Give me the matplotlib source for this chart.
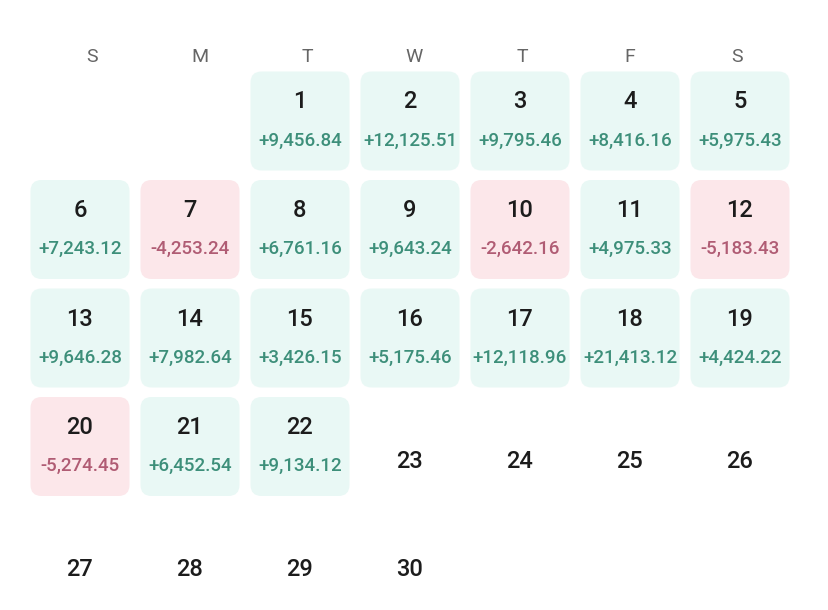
import matplotlib
matplotlib.use("Agg")
import matplotlib.pyplot as plt
from matplotlib.patches import FancyBboxPatch

# Calendar data: month starts on Tuesday (column 2), 30 days
weekday_labels = ['S', 'M', 'T', 'W', 'T', 'F', 'S']
first_weekday = 2
days_in_month = 30
daily_pnl = [9456.84, 12125.51, 9795.46, 8416.16, 5975.43,
             7243.12, -4253.24, 6761.16, 9643.24, -2642.16, 4975.33, -5183.43,
             9646.28, 7982.64, 3426.15, 5175.46, 12118.96, 21413.12, 4424.22,
             -5274.45, 6452.54, 9134.12]

# layout in pixels
W, H = 829, 610
col_x0, col_dx = 80, 110
hdr_x0, hdr_dx = 92, 107.5
row_y0, row_dy = 121, 108.5
box = 99

pos_face, neg_face = '#e9f8f5', '#fce7ea'
pos_text, neg_text = '#3d8f7a', '#b05c74'

fig = plt.figure(figsize=(W / 100, H / 100), dpi=100)
ax = fig.add_axes([0, 0, 1, 1])
ax.set_xlim(0, W)
ax.set_ylim(H, 0)
ax.axis('off')

font = 'Roboto'

for i, lab in enumerate(weekday_labels):
    ax.text(hdr_x0 + i * hdr_dx, 57, lab, ha='center', va='center',
            fontsize=14, color='#666666', family=font)

for d in range(1, days_in_month + 1):
    idx = first_weekday + d - 1
    col, row = idx % 7, idx // 7
    cx = col_x0 + col * col_dx
    cy = row_y0 + row * row_dy
    if d <= len(daily_pnl):
        v = daily_pnl[d - 1]
        face = pos_face if v >= 0 else neg_face
        tc = pos_text if v >= 0 else neg_text
        ax.add_patch(FancyBboxPatch((cx - box / 2 + 11, cy - box / 2 + 11), box - 22, box - 22,
                                    boxstyle='round,pad=11', facecolor=face,
                                    edgecolor='none'))
        ax.text(cx, cy - 19, str(d), ha='center', va='center', fontsize=17,
                color='#1c1c1c', family=font, fontweight='medium')
        ax.text(cx, cy + 19.5, f"{v:+,.2f}", ha='center', va='center', fontsize=13.5,
                color=tc, family=font, fontweight='medium')
    else:
        ax.text(cx, cy + 15, str(d), ha='center', va='center', fontsize=17,
                color='#1c1c1c', family=font, fontweight='medium')

fig.savefig('out.png', dpi=100, facecolor='white')
